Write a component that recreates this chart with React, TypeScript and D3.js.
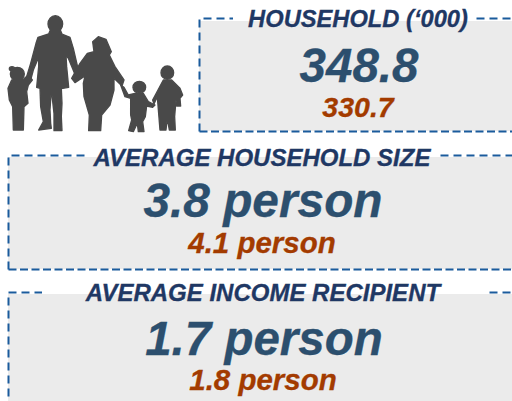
import React, { useEffect, useRef } from 'react';
import { curveLinearClosed, line, select } from 'd3';

const titles = ['HOUSEHOLD (‘000)', 'AVERAGE HOUSEHOLD SIZE', 'AVERAGE INCOME RECIPIENT'];
const currentValues = ['348.8', '3.8 person', '1.7 person'];
const previousValues = ['330.7', '4.1 person', '1.8 person'];

// box layout, one entry per panel
const boxes = [
  { x: 199, y: 18, h: 113, cx: 358, gap: [233, 476], grey: 3, titleY: 27, bigY: 82, smallY: 117, titleSize: 23.7, bigSize: 47.5, smallSize: 28.5 },
  { x: 8, y: 155, h: 114, cx: 262, gap: [85, 440], grey: 2, titleY: 166, bigY: 217, smallY: 253, titleSize: 24, bigSize: 47.8, smallSize: 29.5 },
  { x: 8, y: 292, h: 130, cx: 263, gap: [42, 488], grey: 2, titleY: 300.5, bigY: 355, smallY: 390, titleSize: 24, bigSize: 47.5, smallSize: 29.5 },
];

// family silhouette outlines, traced at 3x
const bodies: [number, number][][] = [
  [[150,92],[182,92],[186,102],[210,112],[220,145],[234,205],[236,222],[226,226],[205,175],[198,165],[200,200],[206,262],[184,266],[186,310],[184,350],[186,392],[162,392],[162,340],[154,268],[150,330],[152,370],[154,385],[116,390],[130,365],[122,320],[120,265],[110,262],[116,200],[116,172],[100,210],[92,240],[80,230],[92,190],[108,130],[114,112],[146,102]],
  [[278,125],[295,110],[318,118],[334,155],[328,165],[345,200],[372,240],[366,258],[342,235],[342,270],[330,315],[305,345],[302,392],[266,392],[268,345],[252,290],[250,250],[255,228],[225,248],[215,235],[240,190],[262,160],[282,155]],
  [[35,240],[70,238],[85,225],[97,240],[85,255],[80,275],[84,310],[72,320],[70,390],[40,390],[38,320],[28,300],[24,265]],
  [[362,255],[372,262],[385,285],[405,280],[430,280],[445,305],[465,315],[458,322],[440,318],[436,350],[428,365],[432,395],[415,395],[412,370],[400,395],[386,392],[395,360],[392,345],[392,295],[375,290]],
  [[490,240],[515,240],[540,265],[548,285],[540,295],[542,318],[530,318],[528,300],[524,350],[526,390],[508,390],[502,355],[498,390],[480,390],[476,340],[472,290],[462,312],[458,300]],
];
const heads = [
  { cx: 166, cy: 72, rx: 22, ry: 25 },
  { cx: 52, cy: 222, rx: 21, ry: 20 },
  { cx: 36, cy: 206, rx: 8, ry: 6 },
  { cx: 418, cy: 262, rx: 19, ry: 18 },
  { cx: 502, cy: 218, rx: 19, ry: 20 },
];

const FONT = '"Liberation Sans", Arial, sans-serif';

export default function App() {
  const ref = useRef<SVGSVGElement>(null);

  useEffect(() => {
    const svg = select(ref.current);
    svg.selectAll('*').remove();

    const defs = svg.append('defs');
    defs.append('filter').attr('id', 'soft').append('feGaussianBlur').attr('stdDeviation', 0.4);

    const family = svg.append('g')
      .attr('transform', 'scale(0.3333)')
      .attr('fill', '#4a4a4a')
      .attr('stroke', '#4a4a4a')
      .attr('stroke-width', 4)
      .attr('stroke-linejoin', 'round')
      .attr('filter', 'url(#soft)');
    const outline = line().curve(curveLinearClosed);
    family.selectAll('path').data(bodies).enter().append('path').attr('d', (d) => outline(d));
    family.selectAll('ellipse').data(heads).enter().append('ellipse')
      .attr('cx', (d) => d.cx).attr('cy', (d) => d.cy).attr('rx', (d) => d.rx).attr('ry', (d) => d.ry);

    const panel = svg.selectAll('g.panel').data(boxes).enter().append('g').attr('class', 'panel');

    panel.append('rect')
      .attr('x', (d) => d.x).attr('y', (d) => d.y + d.grey)
      .attr('width', (d) => 512 - d.x).attr('height', (d) => d.h - d.grey)
      .attr('fill', '#ebebeb');
    panel.append('path')
      .attr('d', (d) => `M${d.x},${d.y + d.h}V${d.y}H520`)
      .attr('transform', 'translate(0.5,0.5)')
      .attr('fill', 'none')
      .attr('stroke', '#1a5b9c')
      .attr('stroke-width', 2)
      .attr('stroke-dasharray', '8 5');
    panel.append('path')
      .attr('d', (d) => `M${d.x},${d.y + d.h}H520`)
      .attr('transform', 'translate(0.5,0.5)')
      .attr('fill', 'none')
      .attr('stroke', '#1a5b9c')
      .attr('stroke-width', 2)
      .attr('stroke-dasharray', '8 3.5');
    panel.append('rect')
      .attr('x', (d) => d.gap[0]).attr('y', (d) => d.y - 3)
      .attr('width', (d) => d.gap[1] - d.gap[0]).attr('height', (d) => d.grey + 3)
      .attr('fill', '#fff');

    const label = (key: string, text: string[], size: string, fill: string, dx = 0) =>
      panel.append('text')
        .attr('x', (d) => d.cx + dx)
        .attr('y', (d) => d[key])
        .attr('text-anchor', 'middle')
        .attr('font-family', FONT)
        .attr('font-weight', 'bold')
        .attr('font-style', 'italic')
        .attr('font-size', (d) => d[size])
        .attr('fill', fill)
        .attr('stroke', fill)
        .attr('stroke-width', 0.3)
        .text((_, i) => text[i]);

    label('titleY', titles, 'titleSize', '#1f3864');
    label('bigY', currentValues, 'bigSize', '#2c4f6e', 1);
    label('smallY', previousValues, 'smallSize', '#a33b00');
  }, []);

  return (
    <svg
      ref={ref}
      width={512}
      height={401}
      style={{ position: 'absolute', left: 0, top: 0, background: '#fff' }}
    />
  );
}
